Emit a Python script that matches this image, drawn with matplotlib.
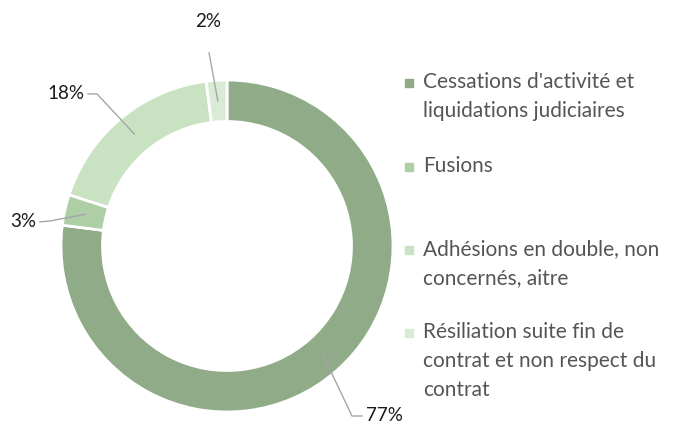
import numpy as np
import matplotlib.pyplot as plt

categories = ["Cessations d'activité et\nliquidations judiciaires",
              "Fusions",
              "Adhésions en double, non\nconcernés, aitre",
              "Résiliation suite fin de\ncontrat et non respect du\ncontrat"]
values = [77, 3, 18, 2]
labels = ['77%', '3%', '18%', '2%']
colors = ['#8fab88', '#aecea6', '#c8e2c2', '#daebd5']

plt.rcParams['font.family'] = ['Lato', 'DejaVu Sans']

fig = plt.figure(figsize=(6.76, 4.23), dpi=100)
ax = fig.add_axes([61 / 676, 11 / 423, 332 / 676, 332 / 423])

wedges, _ = ax.pie(values, colors=colors, startangle=90, counterclock=False,
                   radius=1.0, wedgeprops=dict(width=0.25, edgecolor='white', linewidth=2))
ax.set_xlim(-1, 1)
ax.set_ylim(-1, 1)
ax.set_aspect('equal')

# leader line elbow / end / text position per slice (data coords)
label_pos = [
    ((0.753, -1.024), (0.813, -1.024), (0.837, -1.024), 'left'),
    ((-1.066, 0.151), (-1.127, 0.145), (-1.15, 0.145), 'right'),
    ((-0.783, 0.916), (-0.837, 0.916), (-0.861, 0.916), 'right'),
    ((-0.108, 1.163), (-0.108, 1.163), (-0.114, 1.35), 'center'),
]
for w, lab, (elbow, end, tpos, ha) in zip(wedges, labels, label_pos):
    ang = np.deg2rad((w.theta1 + w.theta2) / 2)
    p = (0.875 * np.cos(ang), 0.875 * np.sin(ang))
    ax.plot([p[0], elbow[0], end[0]], [p[1], elbow[1], end[1]],
            color='#a6a6a6', lw=1, clip_on=False)
    ax.text(tpos[0], tpos[1], lab, ha=ha, va='center', fontsize=13.5,
            color='#1a1a1a', clip_on=False)

# legend
leg_y = [72, 156, 239, 322]
for cat, c, y in zip(categories, colors, leg_y):
    fig.patches.append(plt.Rectangle((405 / 676, 1 - (y + 15) / 423), 8 / 676, 8 / 423,
                                     transform=fig.transFigure, color=c))
    fig.text(423 / 676, 1 - y / 423, cat, ha='left', va='top', fontsize=15,
             color='#555555', linespacing=1.56)

fig.savefig('out.png', dpi=100)
